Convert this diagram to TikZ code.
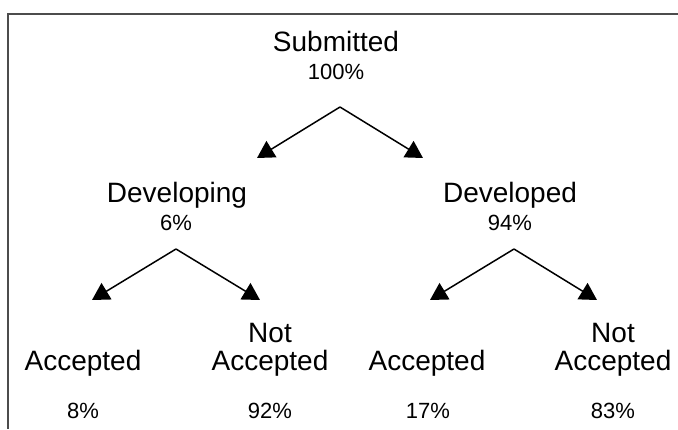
\documentclass[tikz,border=0pt]{standalone}
\usepackage{fontspec}
\setmainfont{Liberation Sans}
\usepackage{tikz}
\usetikzlibrary{arrows.meta}
\tikzset{lbl/.style={font=\fontsize{28}{30}\selectfont, anchor=base, inner sep=0pt},
  pct/.style={font=\fontsize{22}{24}\selectfont, anchor=base, inner sep=0pt},
  branch/.style={line width=1.5pt, -{Triangle[length=17pt,width=19pt]}}}

\begin{document}
\begin{tikzpicture}[x=1pt,y=-1pt]
      \useasboundingbox (0,0) rectangle (678,429);
      \draw [black!70, line width=1.5pt] (678,14) -- (8,14) -- (8,429);

      \node [lbl] (sub) at (336,51) {Submitted};
      \node [pct] (subp) at (336,79) {100\%};

      \node [lbl] (dvg) at (177,202) {Developing};
      \node [pct] (dvgp) at (176,230) {6\%};
      \node [lbl] (dvd) at (510,202) {Developed};
      \node [pct] (dvdp) at (510,230) {94\%};

      \node [lbl] (acc1) at (83,370) {Accepted};
      \node [pct] (acc1p) at (83,418) {8\%};
      \node [lbl] (nacc1a) at (270,342) {Not};
      \node [lbl] (nacc1b) at (270,370) {Accepted};
      \node [pct] (nacc1p) at (270,418) {92\%};

      \node [lbl] (acc2) at (427,370) {Accepted};
      \node [pct] (acc2p) at (428,418) {17\%};
      \node [lbl] (nacc2a) at (613,342) {Not};
      \node [lbl] (nacc2b) at (613,370) {Accepted};
      \node [pct] (nacc2p) at (613,418) {83\%};

      % branch points and arrow ends
      \coordinate (top) at (340,107);
      \coordinate (top-l) at (257,158);
      \coordinate (top-r) at (423,158);
      \coordinate (dvg-s) at (176,249);
      \coordinate (dvg-l) at (92,300);
      \coordinate (dvg-r) at (260,300);
      \coordinate (dvd-s) at (514,249);
      \coordinate (dvd-l) at (430,300);
      \coordinate (dvd-r) at (597,300);

      \draw [branch] (top) -- (top-l);
      \draw [branch] (top) -- (top-r);
      \draw [branch] (dvg-s) -- (dvg-l);
      \draw [branch] (dvg-s) -- (dvg-r);
      \draw [branch] (dvd-s) -- (dvd-l);
      \draw [branch] (dvd-s) -- (dvd-r);
    \end{tikzpicture}
\end{document}
